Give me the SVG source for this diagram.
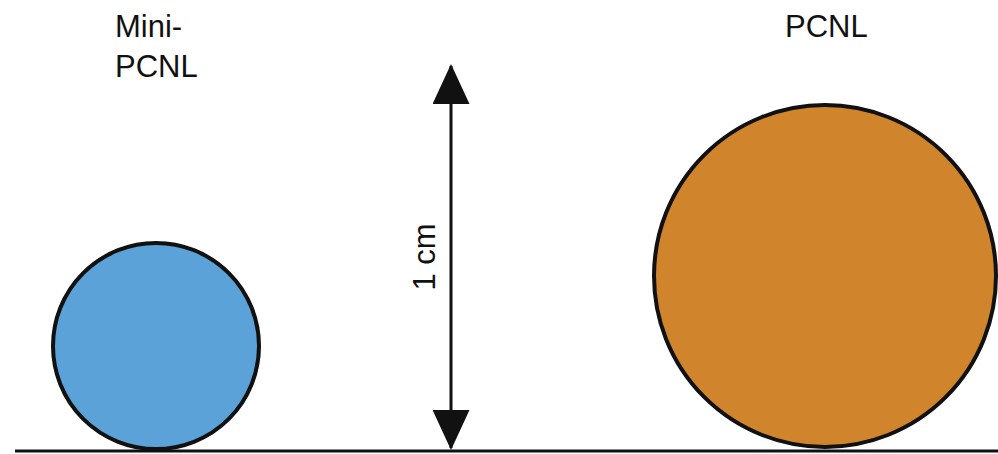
<svg xmlns="http://www.w3.org/2000/svg" width="998" height="454" viewBox="0 0 998 454">
<defs>
<style>
.lbl{font-family:"Liberation Sans",Arial,sans-serif;font-size:31px;fill:#111}
.ball{stroke:#111;stroke-width:4}
.conn{stroke:#111;stroke-width:3;fill:none}
</style>
<marker id="ah" viewBox="0 0 40 37" refX="38" refY="18.5" markerWidth="40" markerHeight="37" markerUnits="userSpaceOnUse" orient="auto-start-reverse">
<path d="M0,0 L40,18.5 L0,37 Z" fill="#111"/>
</marker>
</defs>
<rect width="998" height="454" fill="#ffffff"/>
<g id="baseline">
<line x1="15" y1="451" x2="998" y2="451" stroke="#111" stroke-width="3"/>
</g>
<g id="mini-pcnl">
<circle class="ball" cx="156" cy="346" r="103" fill="#5AA2D8"/>
<text class="lbl" x="115" y="37">Mini-</text>
<text class="lbl" x="115" y="77">PCNL</text>
</g>
<g id="pcnl">
<circle class="ball" cx="825" cy="276" r="171" fill="#D0842B" stroke-width="3"/>
<text class="lbl" x="785" y="37">PCNL</text>
</g>
<g id="connectors">
<line class="conn" x1="451" y1="66" x2="451" y2="448" marker-start="url(#ah)" marker-end="url(#ah)"/>
</g>
<g id="scale-label">
<text class="lbl" transform="translate(435,257) rotate(-90)" text-anchor="middle" font-size="30">1 cm</text>
</g>
</svg>
